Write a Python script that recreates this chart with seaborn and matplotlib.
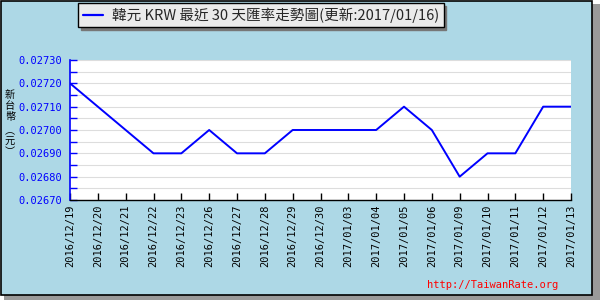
import matplotlib
matplotlib.use("Agg")
import matplotlib.pyplot as plt
import matplotlib.patches as mpatches
from matplotlib.lines import Line2D
from matplotlib.ticker import MultipleLocator, FormatStrFormatter
import seaborn as sns
import pandas as pd

dates = ["2016/12/19", "2016/12/20", "2016/12/21", "2016/12/22", "2016/12/23",
         "2016/12/26", "2016/12/27", "2016/12/28", "2016/12/29", "2016/12/30",
         "2017/01/03", "2017/01/04", "2017/01/05", "2017/01/06", "2017/01/09",
         "2017/01/10", "2017/01/11", "2017/01/12", "2017/01/13"]
rates = [0.02720, 0.02710, 0.02700, 0.02690, 0.02690,
         0.02700, 0.02690, 0.02690, 0.02700, 0.02700,
         0.02700, 0.02700, 0.02710, 0.02700, 0.02680,
         0.02690, 0.02690, 0.02710, 0.02710]
title = "韓元 KRW 最近 30 天匯率走勢圖(更新:2017/01/16)"
ylabel_chars = ["新", "台", "幣", "︵", "元", "︶"]

sns.set_theme(style="white")
plt.rcParams['font.family'] = ['DejaVu Sans', 'Noto Sans CJK TC']

bg = "#ADD8E6"
fig = plt.figure(figsize=(6, 3), dpi=100, facecolor="white")

# outer frame with shadow
fig.patches.append(mpatches.Rectangle((4/600, 0), 596/600, 1-4/300, transform=fig.transFigure,
                                      facecolor="#9a9a9a", edgecolor="none", zorder=-3))
fig.patches.append(mpatches.Rectangle((0.5/600, 5/300), 591/600, 1-5.5/300, transform=fig.transFigure,
                                      facecolor=bg, edgecolor="black", linewidth=1.2, zorder=-2))

ax = fig.add_axes([70/600, 1-200/300, (571-70)/600, 140/300])
ax.set_facecolor("white")

df = pd.DataFrame({"date": dates, "rate": rates})
sns.lineplot(data=df, x="date", y="rate", ax=ax, color="#0000FF", linewidth=1.4, sort=False)

ax.set_xlim(0, len(dates) - 1)
ax.set_ylim(0.02670, 0.02730)
ax.yaxis.set_major_locator(MultipleLocator(0.0001))
ax.yaxis.set_minor_locator(MultipleLocator(0.00005))
ax.yaxis.set_major_formatter(FormatStrFormatter("%.5f"))
ax.grid(True, axis="y", which="both", color="#dddddd", linewidth=0.8)
ax.grid(False, axis="x")
ax.set_axisbelow(True)

ax.set_xticks(range(len(dates)))
ax.set_xticklabels(dates, rotation=90, fontsize=7.5, family="DejaVu Sans Mono", color="black")
for lab in ax.get_yticklabels():
    lab.set_fontfamily("DejaVu Sans Mono")
    lab.set_fontsize(7.5)
    lab.set_color("#0000FF")

ax.tick_params(axis="y", which="both", direction="in", left=True, color="#0000FF", length=5, width=1, pad=6)
ax.tick_params(axis="x", which="both", direction="in", bottom=True, color="black", length=5, width=1, pad=3)
ax.set_xlabel("")
ax.set_ylabel("")

for s in ["top", "right"]:
    ax.spines[s].set_visible(False)
ax.spines["left"].set_color("#0000FF")
ax.spines["left"].set_linewidth(1.2)
ax.spines["bottom"].set_color("black")
ax.spines["bottom"].set_linewidth(1)

# vertical y label, one glyph per row
ypix = [95, 106, 117, 131, 141, 152]
for ch, yp in zip(ylabel_chars, ypix):
    fig.text(10/600, 1-yp/300, ch, family=["Noto Sans CJK TC", "DejaVu Sans"],
             fontsize=7.3, ha="center", va="center", color="black")

# legend-like title box
handle = Line2D([], [], color="#0000FF", linewidth=1.6)
leg = fig.legend([handle], [title], loc="center", bbox_to_anchor=(261/600, 1-15/300),
                 frameon=True, fancybox=False, shadow={"color": "#777777", "alpha": 1},
                 prop={"family": ["Noto Sans CJK TC", "DejaVu Sans"], "size": 10.5},
                 handlelength=1.4, handletextpad=0.6, borderpad=0.3, borderaxespad=0)
leg.get_frame().set_facecolor("#EBEBEB")
leg.get_frame().set_edgecolor("black")
leg.get_frame().set_linewidth(1)

fig.text(558/600, 1-285/300, "http://TaiwanRate.org", color="red", fontsize=7.5,
         family="DejaVu Sans Mono", ha="right", va="center")

fig.savefig("out.png", dpi=100, facecolor=fig.get_facecolor())
